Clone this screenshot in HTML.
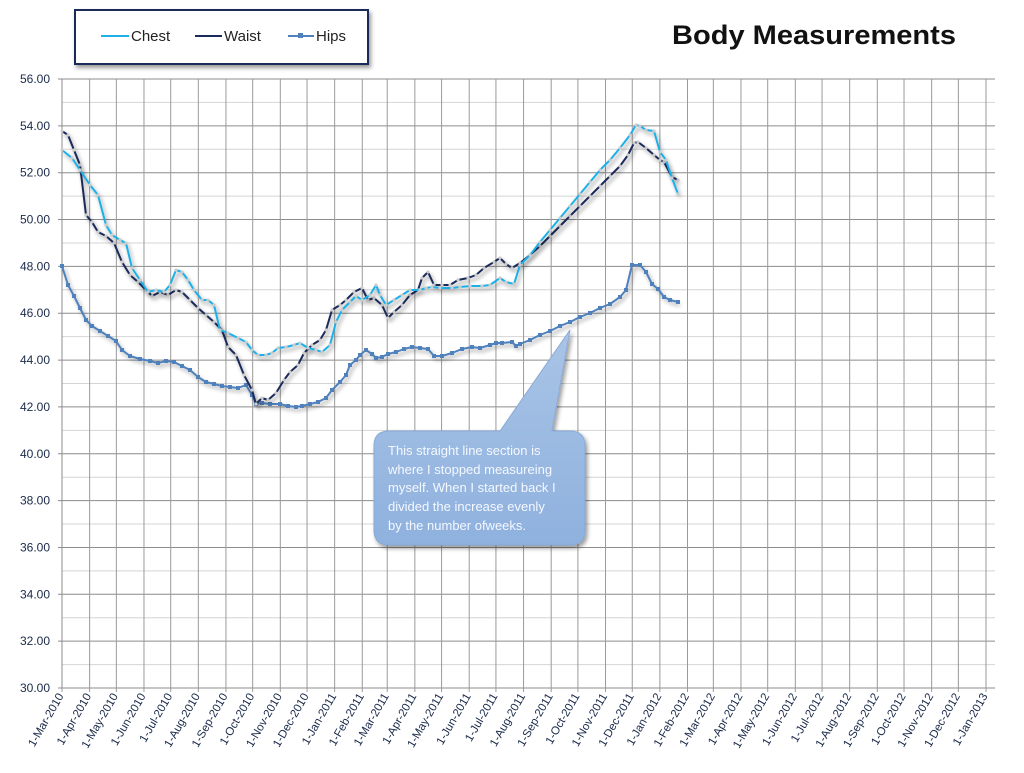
<!DOCTYPE html>
<html><head><meta charset="utf-8"><style>
body{margin:0;background:#fff;width:1024px;height:768px;overflow:hidden;font-family:"Liberation Sans",sans-serif}
</style></head><body>
<svg id="s" width="1024" height="768" xmlns="http://www.w3.org/2000/svg">
<defs>
<filter id="sh" x="-20%" y="-20%" width="140%" height="140%"><feGaussianBlur in="SourceAlpha" stdDeviation="2"/><feOffset dx="2" dy="3"/><feComponentTransfer><feFuncA type="linear" slope="0.4"/></feComponentTransfer><feMerge><feMergeNode/><feMergeNode in="SourceGraphic"/></feMerge></filter>
<linearGradient id="cg" x1="0" y1="0" x2="0" y2="1"><stop offset="0" stop-color="#a9c4e6"/><stop offset="1" stop-color="#8fb1de"/></linearGradient>
</defs>
<g id="grid"></g>
<g id="series"></g>
<rect x="75" y="10" width="293" height="54" fill="#fff" stroke="#1a2a5a" stroke-width="2" filter="url(#sh)"/>
<line x1="101" y1="36" x2="129" y2="36" stroke="#1fb0e8" stroke-width="2"/><text x="131" y="41" font-size="15" fill="#222">Chest</text>
<line x1="195" y1="36" x2="222" y2="36" stroke="#1a2a5a" stroke-width="2"/><text x="224" y="41" font-size="15" fill="#222">Waist</text>
<line x1="288" y1="36" x2="314" y2="36" stroke="#4f81bd" stroke-width="2"/><rect x="298" y="33" width="5" height="5" fill="#4f81bd"/><text x="316" y="41" font-size="15" fill="#222">Hips</text>
<text x="814" y="44" font-size="27" font-weight="bold" text-anchor="middle" fill="#111" textLength="284" lengthAdjust="spacingAndGlyphs">Body Measurements</text>
<g filter="url(#sh)">
<path d="M388,431 L500,431 L570,330 L552,431 L570,431 Q585,431 585,446 L585,530 Q585,545 570,545 L389,545 Q374,545 374,530 L374,446 Q374,431 389,431 Z" fill="url(#cg)" stroke="#8aaad6" stroke-width="1"/>
</g>
<g font-size="13" fill="#f4f8ff">
<text x="388" y="455">This straight line section is</text>
<text x="388" y="474">where I stopped measureing</text>
<text x="388" y="492">myself.  When I started back I</text>
<text x="388" y="511">divided the increase evenly</text>
<text x="388" y="530">by the number ofweeks.</text>
</g>
</svg>
<script>
const NS="http://www.w3.org/2000/svg",g=document.getElementById('grid'),sr=document.getElementById('series');
function el(t,a,p){const e=document.createElementNS(NS,t);for(const k in a)e.setAttribute(k,a[k]);if(p)p.appendChild(e);return e;}
const x0=62,x1=986,yTop=79,yBot=688;
const yv=v=>yBot-(v-30)*(yBot-yTop)/26;
for(let v=31;v<56;v+=2)el('line',{x1:x0,x2:995,y1:yv(v),y2:yv(v),stroke:'#d4d4d4','stroke-width':1},g);
for(let v=30;v<=56;v+=2){el('line',{x1:x0-4,x2:995,y1:yv(v),y2:yv(v),stroke:'#8c8c8c','stroke-width':1},g);
 const t=el('text',{x:50,y:yv(v)+4,'font-size':12,'text-anchor':'end',fill:'#1a2a4a'},g);t.textContent=v.toFixed(2);}
const mn=['Jan','Feb','Mar','Apr','May','Jun','Jul','Aug','Sep','Oct','Nov','Dec'];
const start=Date.UTC(2010,2,1),end=Date.UTC(2013,0,1);
for(let i=0;i<=34;i++){const m=(2+i)%12,y=2010+Math.floor((2+i)/12);const d=Date.UTC(y,m,1);
 const x=x0+(d-start)/(end-start)*(x1-x0);
 el('line',{x1:x,x2:x,y1:yTop,y2:yBot+4,stroke:'#9a9a9a','stroke-width':1},g);
 const t=el('text',{x:x+2,y:yBot+8,'font-size':11.5,'text-anchor':'end',fill:'#1a2a4a',transform:`rotate(-60 ${x+2} ${yBot+8})`},g);t.textContent=`1-${mn[m]}-${y}`;}
el('line',{x1:x0,x2:x0,y1:yTop,y2:yBot,stroke:'#8c8c8c'},g);
function P(s){return s.trim().split(/\s+/).map(p=>p.split(',').map(Number));}
const chest=P(`62,150 72,158 80,170 90,185 98,195 106,225 112,235 120,240 126,243 132,268 140,280 148,292 156,290 164,292 170,285 176,270 182,272 188,280 194,290 202,300 208,300 214,305 220,330 228,333 238,338 246,342 252,350 258,355 266,355 272,353 278,348 286,347 294,345 300,343 308,348 316,350 322,352 330,345 336,322 342,310 350,302 356,296 362,300 370,295 376,285 380,295 386,305 394,300 402,295 410,290 420,290 426,288 432,287 440,288 452,288 460,287 470,286 482,286 490,285 500,278 506,282 514,284 520,265 530,255 540,242 550,230 560,218 570,206 580,194 590,182 600,170 610,160 620,148 630,135 636,125 640,126 646,130 654,131 660,152 666,160 672,178 678,194`);
const waist=P(`62,131 68,135 74,150 80,165 86,215 92,222 98,232 106,236 114,243 122,262 130,275 138,282 146,290 152,296 160,292 168,295 176,290 182,292 190,300 198,308 206,315 214,322 222,330 228,347 236,355 244,375 252,390 256,404 262,398 268,400 276,393 284,380 290,372 298,365 304,353 312,345 320,340 326,330 332,310 340,305 346,300 354,292 362,288 368,300 374,298 382,305 388,318 394,312 402,305 410,295 418,290 422,278 428,272 434,285 442,285 450,285 458,280 468,278 476,275 484,268 494,262 500,258 506,264 512,268 520,263 530,255 540,246 550,236 560,226 570,216 580,206 590,196 600,186 610,176 620,166 628,155 634,143 638,142 646,148 654,155 660,160 664,162 672,177 678,180`);
const hips=P(`62,266 68,285 74,296 80,308 86,320 92,326 100,331 108,336 116,341 122,350 130,356 140,359 150,361 158,363 166,361 174,362 182,366 190,370 198,377 206,382 214,384 222,386 230,387 238,388 246,385 252,395 256,404 262,403 270,404 280,404 288,406 296,407 302,406 310,404 318,402 326,398 332,390 340,382 346,375 350,365 356,360 360,355 366,350 372,354 376,358 382,357 388,354 396,352 404,349 412,347 420,348 428,349 434,356 442,356 452,353 462,349 472,347 480,348 490,345 496,343 502,343 512,342 516,346 520,344 530,340 540,335 550,331 560,326 570,322 580,317 590,313 600,308 610,304 620,297 626,290 632,265 640,265 646,272 652,284 658,289 664,297 670,300 678,302`);
function draw(pts,col,w,mk){
 el('polyline',{points:pts.map(p=>p.join(',')).join(' '),fill:'none',stroke:col,'stroke-width':w,'stroke-linejoin':'round',filter:'url(#sh)'},sr);
 pts.forEach(p=>{if(mk==='sq')el('rect',{x:p[0]-2,y:p[1]-2,width:4,height:4,fill:col},sr);else el('circle',{cx:p[0],cy:p[1],r:1.6,fill:'#ccc'},sr);});
}
draw(hips,'#4f81bd',2,'sq');
draw(waist,'#1a2a5a',2,'c');
draw(chest,'#1fb0e8',2,'c');
</script>
</body></html>
